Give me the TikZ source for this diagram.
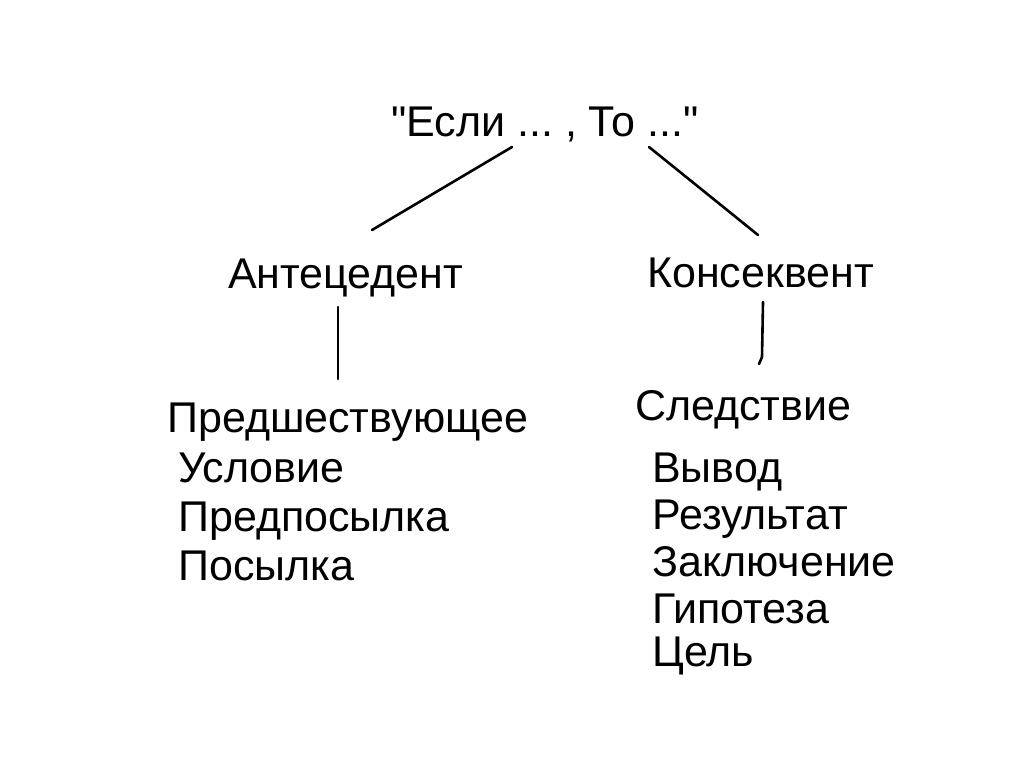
\documentclass[tikz,border=0pt]{standalone}
\usepackage{fontspec}
\setmainfont{Liberation Sans}
\usetikzlibrary{positioning}
\tikzset{
    word/.style={
        anchor=base west,
        inner sep=0pt,
        font=\fontsize{43}{52}\selectfont
    },
    branch/.style={
        line width=2.6pt,
        line cap=round
    }
}
\frenchspacing

\begin{document}
\begin{tikzpicture}[x=1pt,y=-1pt]
        \useasboundingbox[fill=white] (0,0) rectangle (1024,767);

        % draw heading
        \node[word,anchor=base] (rule) at (545,137) {\textquotedbl Если ... , То ...\textquotedbl};

        % draw the two parts
        \node[word] (ant) at (228,288) {Антецедент};
        \node[word] (cons) at (647,287) {Консеквент};
        \node[word] (antname) at (167,432) {Предшествующее};
        \node[word] (consname) at (635,420) {Следствие};

        % draw synonyms
        \foreach \k/\w/\yk in {1/Условие/482, 2/Предпосылка/531, 3/Посылка/580}
        {
            \node[word] (antsyn\k) at (178,\yk) {\w};
        }
        \foreach \k/\w/\yk in {1/Вывод/482, 2/Результат/529, 3/Заключение/576, 4/Гипотеза/623, 5/Цель/666}
        {
            \node[word] (conssyn\k) at (652,\yk) {\w};
        }

        % draw connectors
        \coordinate (ifend) at (512,147);
        \coordinate (antup) at (372,230);
        \coordinate (thenend) at (649,147);
        \coordinate (consup) at (758,235);
        \coordinate (antdown) at (338,307);
        \coordinate (antbar) at (338,379);
        \coordinate (consdown) at (763,302);
        \coordinate (consbar) at (759,364);
        \draw[branch] (ifend) -- (antup);
        \draw[branch] (thenend) -- (consup);
        \draw[branch] (antdown) -- (antbar);
        \draw[branch] (consdown) -- (762,357) -- (consbar);
\end{tikzpicture}
\end{document}
